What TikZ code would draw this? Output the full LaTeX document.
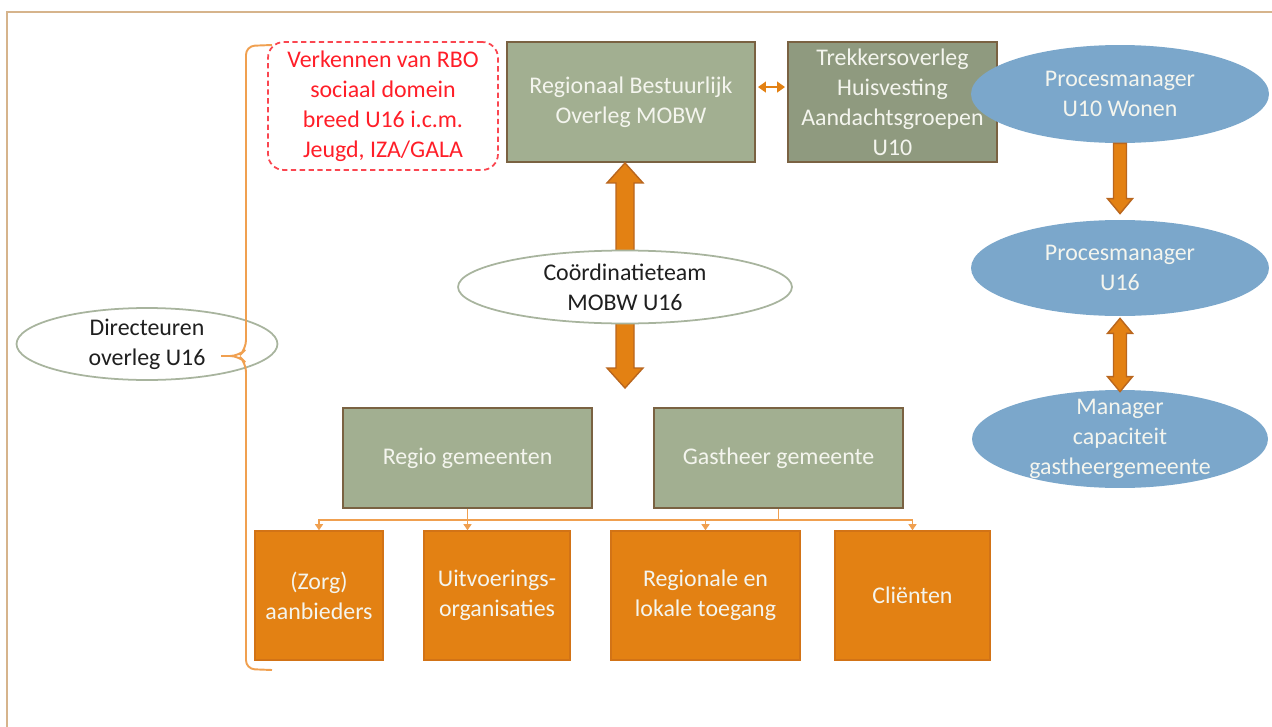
\documentclass[tikz,border=0pt]{standalone}
\usepackage{fontspec}
\setmainfont{Carlito}
\usetikzlibrary{shapes.geometric,arrows.meta,calc}

\definecolor{boxgreen}{RGB}{162,175,145}
\definecolor{boxgreendk}{RGB}{143,154,127}
\definecolor{boxedge}{RGB}{122,98,66}
\definecolor{paletext}{RGB}{244,245,238}
\definecolor{ovalblue}{RGB}{123,167,203}
\definecolor{orangebox}{RGB}{227,129,19}
\definecolor{orangeedge}{RGB}{210,115,22}
\definecolor{arrowedge}{RGB}{185,102,30}
\definecolor{linkorange}{RGB}{240,160,80}
\definecolor{framecol}{RGB}{214,180,140}
\definecolor{ovaledge}{RGB}{168,180,158}
\definecolor{redtxt}{RGB}{255,30,40}
\definecolor{reddash}{RGB}{250,70,80}

\tikzset{
  every node/.style={font=\fontsize{13.6}{17}\selectfont, align=center, inner sep=0pt},
  greenbox/.style={rectangle, draw=boxedge, line width=1.1pt, fill=boxgreen, text=paletext,
    minimum width=4.96cm, minimum height=2.4cm},
  orangebox/.style={rectangle, draw=orangeedge, line width=0.8pt, fill=orangebox, text=paletext,
    minimum height=2.58cm},
  dashbox/.style={rectangle, draw=reddash, line width=1pt, dash pattern=on 3pt off 2pt,
    rounded corners=9pt, text=redtxt, minimum width=4.6cm, minimum height=2.56cm},
  blueoval/.style={ellipse, fill=ovalblue, minimum width=5.96cm, minimum height=1.96cm},
  whiteoval/.style={ellipse, draw=ovaledge, line width=1pt, fill=white},
  ovaltext/.style={text=paletext},
  darktext/.style={text=black!88},
  fatarrow/.style={draw=arrowedge, line width=0.8pt, fill=orangebox, line join=miter},
  link/.style={draw=linkorange, line width=1pt},
  linktip/.style={-{Triangle[length=3.5pt,width=4.5pt]}},
  bracket/.style={draw=linkorange, line width=1.1pt, rounded corners=5pt}
}

\begin{document}
\begin{tikzpicture}[x=0.02cm,y=-0.02cm]
\useasboundingbox (0,0) rectangle (1272,727);

% frame
\draw[framecol, line width=0.9pt] (1272,12) -- (7,12) -- (7,727);

% top row
\node[dashbox] (rboverk) at (383,106) {Verkennen van RBO\\sociaal domein\\breed U16 i.c.m.\\Jeugd, IZA/GALA};
\node[greenbox] (rbo) at (631,102) {Regionaal Bestuurlijk\\Overleg MOBW};
\node[greenbox, fill=boxgreendk, minimum width=4.18cm] (trek) at (892.5,102) {Trekkersoverleg\\Huisvesting\\Aandachtsgroepen\\U10};
\draw[draw=orangebox, line width=1.4pt, {Triangle[length=4.5pt,width=6pt]}-{Triangle[length=4.5pt,width=6pt]}]
  ($(rbo.north east)+(2,46)$) -- ($(trek.north west)+(-2,46)$);

% fat arrow through the coordination team
\coordinate (cdown) at (625,388);
\coordinate (cup) at (rbo.south -| cdown);
\draw[fatarrow] (cup) -- ($(cup)+(18,20)$) -- ($(cup)+(9,20)$) -- ($(cdown)+(9,-20)$)
  -- ($(cdown)+(18,-20)$) -- (cdown) -- ($(cdown)+(-18,-20)$) -- ($(cdown)+(-9,-20)$)
  -- ($(cup)+(-9,20)$) -- ($(cup)+(-18,20)$) -- cycle;
\node[whiteoval, minimum width=6.68cm, minimum height=1.46cm] (coord) at (625,287) {};
\node[darktext] (coordtxt) at (coord) {Coördinatieteam\\MOBW U16};

% directors
\node[whiteoval, minimum width=5.22cm, minimum height=1.44cm] (dir) at (147,344) {};
\node[darktext] (dirtxt) at (dir) {Directeuren\\overleg U16};
\draw[bracket] (272,45) -- (246,46) -- (246,349) -- (239,356) -- (221,356);
\draw[bracket] (221,356) -- (239,356) -- (246,363) -- (246,669) -- (272,670);

% process managers
\node[blueoval] (pmwon) at (1120,94) {};
\node[ovaltext] (pmwontxt) at (pmwon) {Procesmanager\\U10 Wonen};
\node[blueoval, minimum height=1.92cm] (pmu) at (1120,268) {};
\node[ovaltext] (pmutxt) at (pmu) {Procesmanager\\U16};
\node[blueoval, minimum width=5.92cm] (mcap) at (1120,439) {};
\node[ovaltext] (mcaptxt) at (mcap) {Manager\\capaciteit\\gastheergemeente};

\coordinate (pmtop) at (pmwon.south);
\coordinate (pmbot) at ($(pmu.north)+(0,-6)$);
\draw[fatarrow] ($(pmtop)+(-6.5,0)$) -- ($(pmbot)+(-6.5,-15)$) -- ($(pmbot)+(-12.5,-15)$) -- (pmbot)
  -- ($(pmbot)+(12.5,-15)$) -- ($(pmbot)+(6.5,-15)$) -- ($(pmtop)+(6.5,0)$) -- cycle;
\coordinate (mup) at ($(pmu.south)+(0,2)$);
\coordinate (mdown) at ($(mcap.north)+(0,2)$);
\draw[fatarrow] (mup) -- ($(mup)+(12.5,15)$) -- ($(mup)+(6.5,15)$) -- ($(mdown)+(6.5,-15)$)
  -- ($(mdown)+(12.5,-15)$) -- (mdown) -- ($(mdown)+(-12.5,-15)$) -- ($(mdown)+(-6.5,-15)$)
  -- ($(mup)+(-6.5,15)$) -- ($(mup)+(-12.5,15)$) -- cycle;

% municipalities
\node[greenbox, minimum width=4.98cm, minimum height=2cm] (regio) at (467.5,458) {Regio gemeenten};
\node[greenbox, minimum width=4.98cm, minimum height=2cm] (gast) at (778.5,458) {Gastheer gemeente};

% parties
\node[orangebox, minimum width=2.56cm] (zorg) at (319,595.5) {(Zorg)\\aanbieders};
\node[orangebox, minimum width=2.92cm] (uitv) at (497,595.5) {Uitvoerings-\\organisaties};
\node[orangebox, minimum width=3.78cm] (toeg) at (705.5,595.5) {Regionale en\\lokale toegang};
\node[orangebox, minimum width=3.1cm] (cli) at (912.5,595.5) {Cliënten};

\coordinate (busl) at ($(regio.south)+(0,11)$);
\coordinate (busr) at ($(gast.south)+(0,11)$);
\draw[link] (regio.south) -- (busl) -- (busr) -- (gast.south);
\draw[link, linktip] (busl) -| (zorg.north);
\draw[link, linktip] (busl) -- (busl |- uitv.north);
\draw[link, linktip] (busr) -| (toeg.north);
\draw[link, linktip] (busr) -| (cli.north);
\end{tikzpicture}
\end{document}
